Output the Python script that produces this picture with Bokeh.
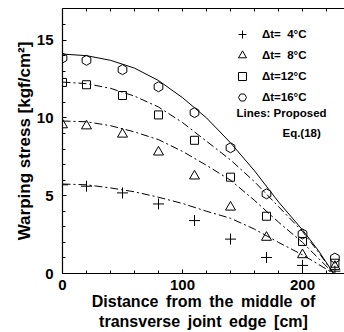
from bokeh.plotting import figure
from bokeh.models import (FixedTicker, LinearAxis, Legend, LegendItem, Label, Range1d)
from bokeh.embed import file_html
from bokeh.resources import INLINE

# measured points
x_pts = [0, 20, 50, 80, 110, 140, 170, 200, 227]
dt4 = [5.7, 5.61, 5.18, 4.47, 3.4, 2.21, 1.03, 0.52, 0.15]
dt8 = [9.55, 9.48, 8.95, 7.8, 6.26, 4.26, 2.32, 1.2, 0.45]
dt12 = [12.28, 12.13, 11.44, 10.19, 8.56, 6.19, 3.68, 2.06, 0.66]
dt16 = [13.85, 13.7, 13.1, 12.0, 10.34, 8.08, 5.12, 2.54, 0.99]

# proposed Eq.(18) curves
cx = [0, 20, 40, 60, 80, 100, 120, 140, 160, 180, 200, 213, 226]
c16 = [14.1, 14.0, 13.7, 13.2, 12.4, 11.3, 10.0, 8.4, 6.6, 4.6, 2.8, 1.5, 0.0]
c12 = [12.3, 12.2, 11.9, 11.4, 10.7, 9.7, 8.5, 7.3, 5.9, 4.3, 2.7, 1.4, 0.0]
c8 = [9.8, 9.75, 9.5, 9.1, 8.6, 7.85, 6.95, 6.0, 4.7, 3.3, 2.0, 1.0, 0.0]
c4 = [5.75, 5.7, 5.5, 5.25, 4.9, 4.5, 4.0, 3.55, 2.85, 2.0, 1.2, 0.6, 0.0]

labels = ["\u0394t=\u00a0\u00a04\u00b0C", "\u0394t=\u00a0\u00a08\u00b0C",
          "\u0394t=12\u00b0C", "\u0394t=16\u00b0C"]
x_major = [0, 100, 200]
x_minor = list(range(0, 240, 20))
y_major = [0, 5, 10, 15]
y_minor = list(range(0, 18))

FONT = "Liberation Sans"
TS = "\u2009"

p = figure(width=344, height=332, output_backend="svg", toolbar_location=None,
           x_range=Range1d(0, 235), y_range=Range1d(0, 17.03),
           min_border_left=62, min_border_right=0, min_border_top=8,
           min_border_bottom=0, x_axis_type=None, y_axis_type=None)
p.outline_line_color = None
p.background_fill_color = "white"
p.border_fill_color = "white"

xt = FixedTicker(ticks=x_major, minor_ticks=x_minor)
yt = FixedTicker(ticks=y_major, minor_ticks=y_minor)
xt_top = FixedTicker(ticks=[], minor_ticks=x_minor)

def style(ax):
    ax.axis_line_color = "black"
    ax.axis_line_width = 1.2
    ax.major_tick_in = 4
    ax.major_tick_out = 0
    ax.minor_tick_in = 3
    ax.minor_tick_out = 0
    ax.major_tick_line_color = "black"
    ax.minor_tick_line_color = "black"
    ax.major_label_text_font = FONT
    ax.major_label_text_font_style = "bold"
    ax.major_label_text_font_size = "15px"
    ax.major_label_text_color = "black"
    ax.axis_label_text_font = FONT
    ax.axis_label_text_font_style = "bold"
    ax.axis_label_text_font_size = "16px"
    ax.axis_label_text_color = "black"

xb = LinearAxis(ticker=xt, axis_label=("Distance " + TS + "from " + TS + "the " + TS +
                                       "middle " + TS + "of\ntransverse " + TS +
                                       "joint " + TS + "edge " + TS + "[cm]"))
style(xb)
xb.major_label_standoff = 6
xb.axis_label_standoff = 0
p.add_layout(xb, "below")

yl = LinearAxis(ticker=yt, axis_label="Warping stress [kgf/cm\u00b2]")
style(yl)
yl.axis_label_text_font_size = "17px"
yl.major_label_standoff = 9
yl.axis_label_standoff = 0
p.add_layout(yl, "left")

xa = LinearAxis(ticker=xt_top)
style(xa)
xa.major_label_standoff = 0
p.add_layout(xa, "above")

dash = "8 3 2 3"
p.line(cx, c16, line_color="black", line_width=1)
p.line(cx, c12, line_color="black", line_width=1, line_dash=dash)
p.line(cx, c8, line_color="black", line_width=1, line_dash=dash)
p.line(cx, c4, line_color="black", line_width=1, line_dash=dash)

r4 = p.scatter(x_pts, dt4, marker="cross", size=11, line_color="black", line_width=1)
r8 = p.scatter(x_pts, dt8, marker="triangle", size=10, line_color="black",
               fill_color=None, line_width=1)
r12 = p.scatter(x_pts, dt12, marker="square", size=8, line_color="black",
                fill_color=None, line_width=1)
r16 = p.scatter(x_pts, dt16, marker="hex", size=10, line_color="black",
                fill_color=None, line_width=1, angle=0.5236)

legend = Legend(items=[LegendItem(label=labels[0], renderers=[r4]),
                       LegendItem(label=labels[1], renderers=[r8]),
                       LegendItem(label=labels[2], renderers=[r12]),
                       LegendItem(label=labels[3], renderers=[r16])],
                location=(170, 166), padding=0, margin=0, spacing=1,
                glyph_width=20, glyph_height=20, label_height=20,
                label_standoff=10, border_line_color=None,
                background_fill_alpha=0,
                label_text_font=FONT, label_text_font_style="bold",
                label_text_font_size="11.5px", label_text_color="black")
p.add_layout(legend, "center")

for txt, lx, ly in [("Lines: Proposed", 145, 10.32), ("Eq.(18)", 183.3, 9.03)]:
    p.add_layout(Label(x=lx, y=ly, text=txt, text_font=FONT, text_font_style="bold",
                       text_font_size="11.5px", text_baseline="middle",
                       text_align="left", text_color="black"))

open("out.html", "w").write(file_html(p, INLINE))
